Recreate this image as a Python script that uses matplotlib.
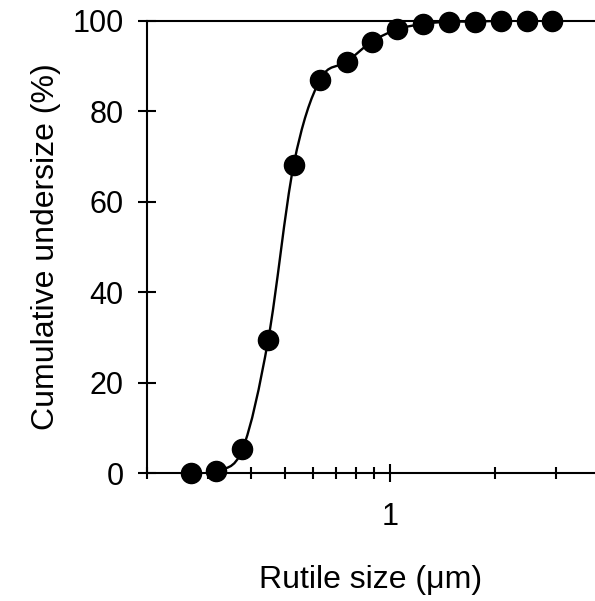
import numpy as np
import matplotlib
matplotlib.use("Agg")
import matplotlib.pyplot as plt
from matplotlib.path import Path
from matplotlib.patches import PathPatch
from matplotlib.ticker import LogLocator, NullFormatter, FixedLocator, FixedFormatter

plt.rcParams['font.family'] = ['Liberation Sans', 'DejaVu Sans']

# Cumulative undersize of rutile particles
size_um = [0.269, 0.317, 0.377, 0.447, 0.529, 0.629, 0.751, 0.889,
           1.052, 1.247, 1.481, 1.756, 2.083, 2.474, 2.932]
undersize = [0.0, 0.5, 5.3, 29.5, 68.1, 86.9, 90.9, 95.4,
             98.1, 99.3, 99.8, 99.8, 100.0, 100.0, 100.0]

y_ticks = [0, 20, 40, 60, 80, 100]


def smooth_path(xs, ys):
    # Catmull-Rom through the points, drawn as cubic Bezier segments (log x)
    lx = np.log10(xs)
    ys = np.asarray(ys, float)
    px = np.concatenate([[lx[0]], lx, [lx[-1]]])
    py = np.concatenate([[ys[0]], ys, [ys[-1]]])
    verts = [(xs[0], ys[0])]
    codes = [Path.MOVETO]
    for i in range(1, len(px) - 2):
        c1 = (px[i] + (px[i + 1] - px[i - 1]) / 6, py[i] + (py[i + 1] - py[i - 1]) / 6)
        c2 = (px[i + 1] - (px[i + 2] - px[i]) / 6, py[i + 1] - (py[i + 2] - py[i]) / 6)
        end = (px[i + 1], py[i + 1])
        for pt in (c1, c2, end):
            verts.append((10 ** pt[0], pt[1]))
            codes.append(Path.CURVE4)
    return Path(verts, codes)


fig = plt.figure(figsize=(5.95, 6.01), dpi=100)
ax = fig.add_axes([0.2466, 0.2125, 0.7534, 0.753])

ax.set_xscale('log')
ax.add_patch(PathPatch(smooth_path(size_um, undersize), fill=False,
                       edgecolor='black', linewidth=1.7, transform=ax.transData))
ax.plot(size_um, undersize, 'o', color='black', markersize=14.5,
        linestyle='none', clip_on=False, zorder=5)

ax.set_xlim(0.2, 3.89)
ax.set_ylim(0, 100)

ax.xaxis.set_major_locator(FixedLocator([1]))
ax.xaxis.set_major_formatter(FixedFormatter(['1']))
ax.xaxis.set_minor_locator(LogLocator(base=10, subs=np.arange(2, 10), numticks=10))
ax.xaxis.set_minor_formatter(NullFormatter())
ax.set_yticks(y_ticks)

for side in ['top', 'left', 'bottom']:
    ax.spines[side].set_linewidth(1.5)
ax.spines['right'].set_visible(False)

ax.tick_params(axis='both', which='major', direction='inout', length=13, width=1.5,
               labelsize=22, pad=10)
ax.tick_params(axis='x', which='minor', direction='inout', length=8.5, width=1.5)
ax.tick_params(axis='x', which='major', pad=14)

ax.set_xlabel('Rutile size (μm)', fontsize=23, labelpad=24)
ax.set_ylabel('Cumulative undersize (%)', fontsize=23, labelpad=8)

fig.savefig('out.png', dpi=100)
